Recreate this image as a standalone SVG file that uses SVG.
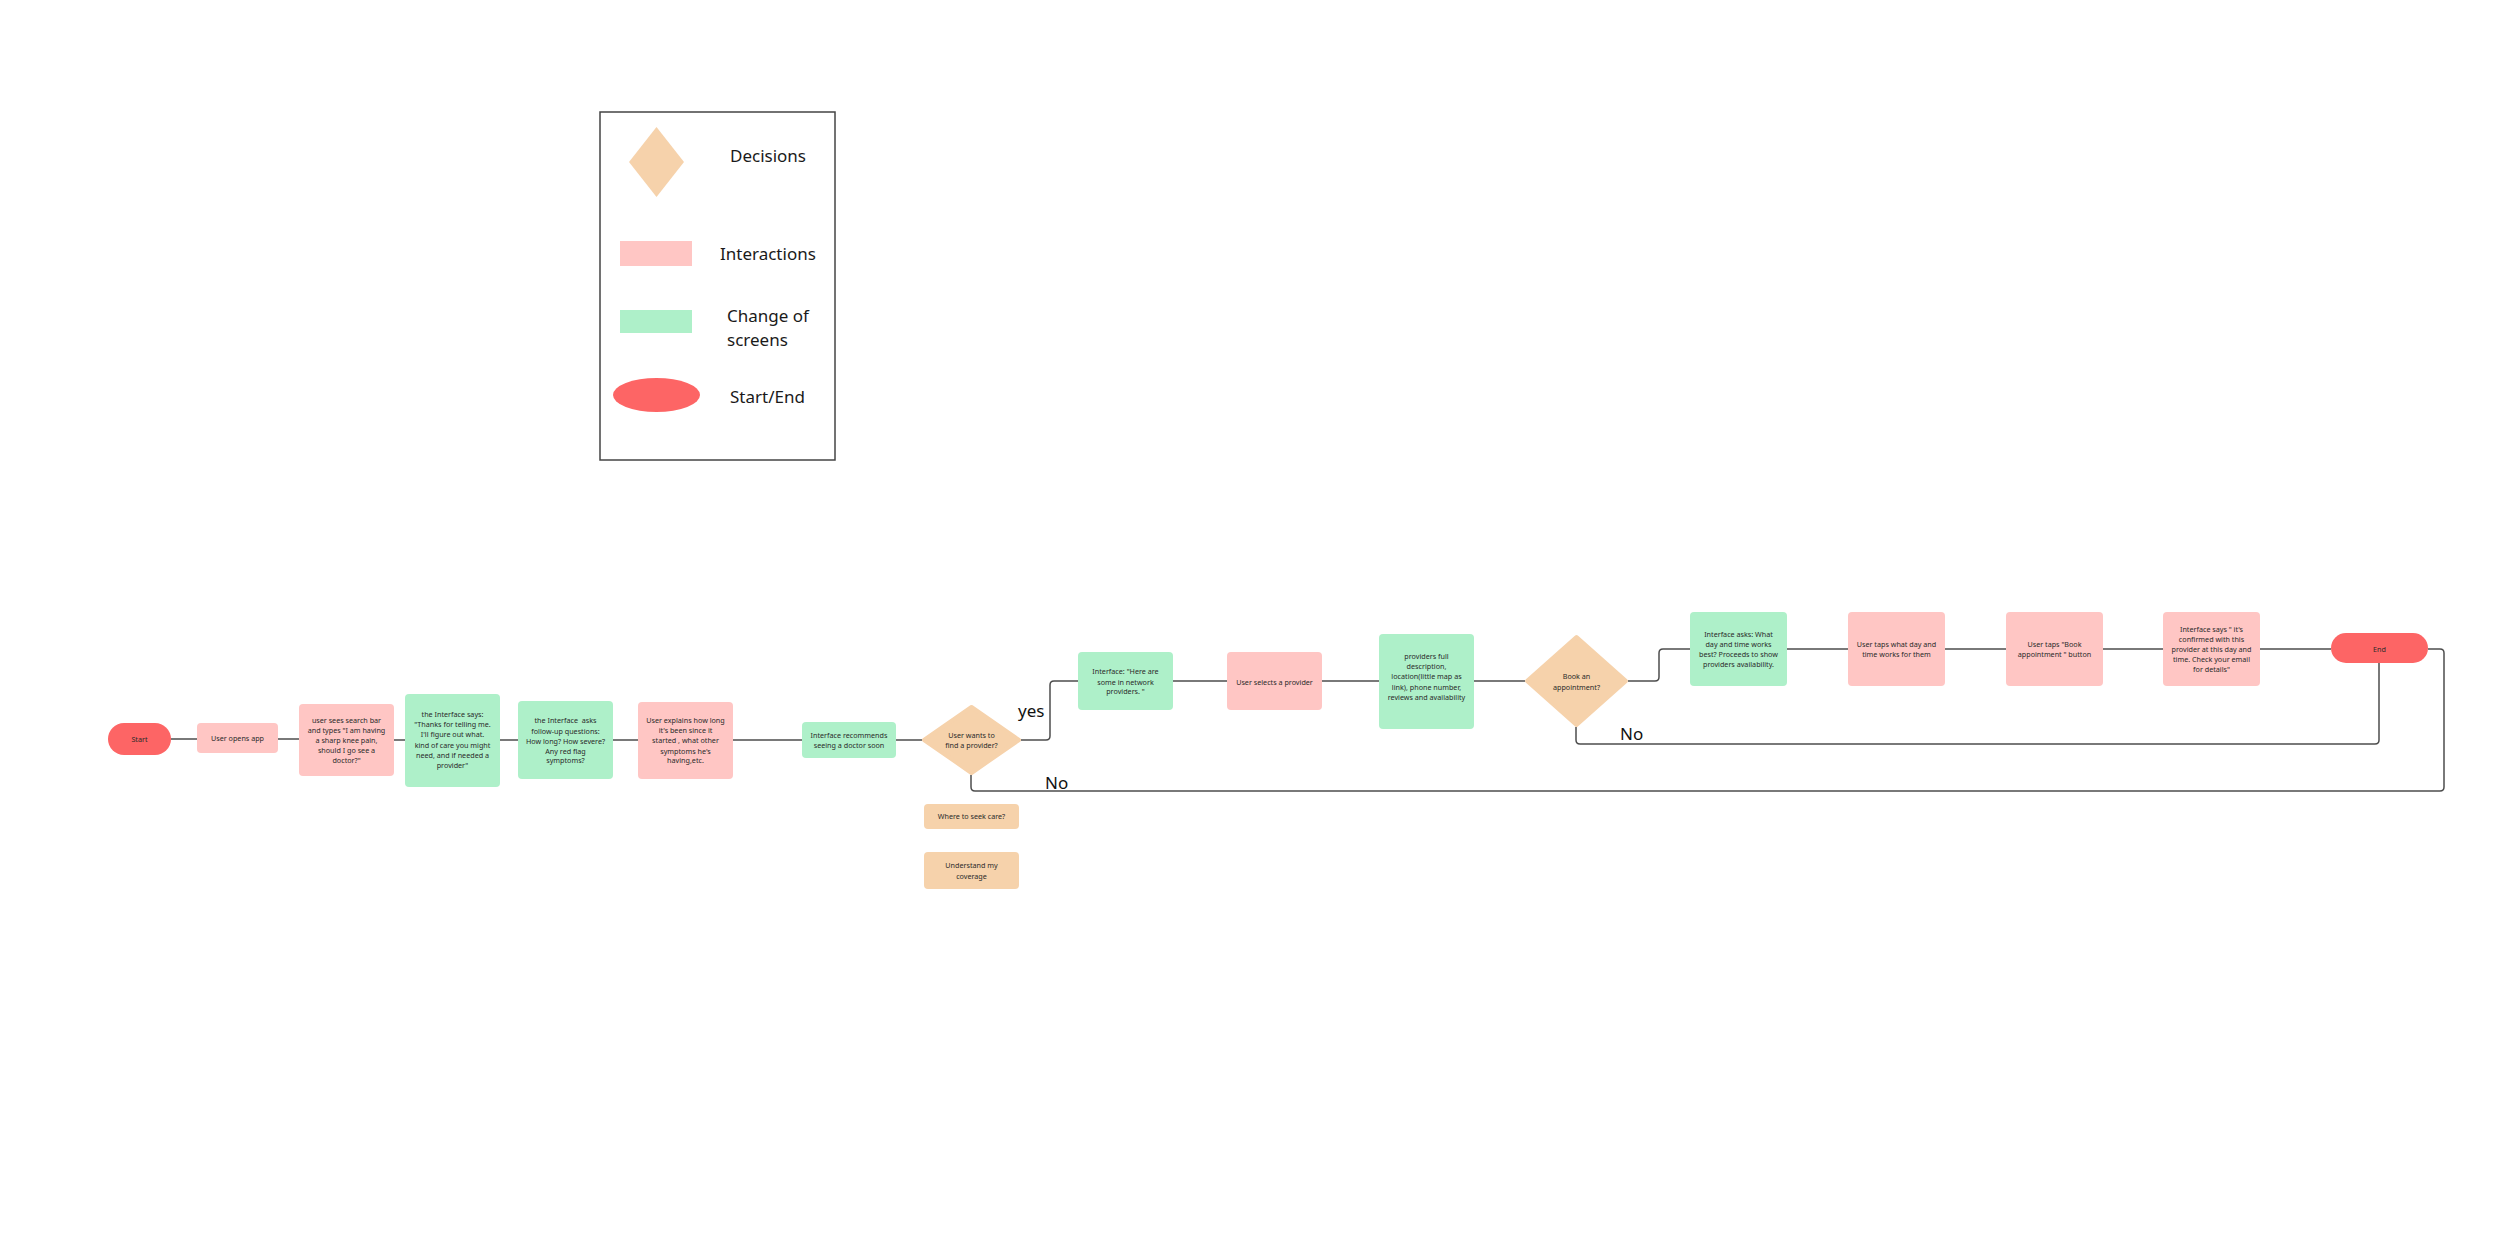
<svg xmlns="http://www.w3.org/2000/svg" width="2500" height="1247" viewBox="0 0 2500 1247">
<style>
.bg{fill:#ffffff}
.int{fill:#ffc6c4}
.scr{fill:#aef0c9}
.dec{fill:#f6d2ab;stroke:#f6d2ab;stroke-width:4;stroke-linejoin:round}
.opt{fill:#f6d2ab}
.se{fill:#fd6565}
.t{font-family:"Noto Sans","Open Sans",sans-serif;font-size:7.2px;fill:#2a2a2a;text-anchor:middle}
.lg{font-family:"Noto Sans","Open Sans",sans-serif;font-size:17px;fill:#1a1a1a}
.lab{font-family:"Noto Sans","Open Sans",sans-serif;font-size:17px;fill:#111111}
.c{fill:none;stroke:#4d4d4d;stroke-width:1.5}
</style>
<rect class="bg" x="0" y="0" width="2500" height="1247"/>

<g id="legend">
<rect x="600" y="112" width="235" height="348" fill="none" stroke="#444" stroke-width="1.5"/>
<polygon points="656.5,127 684,162 656.5,197 629,162" fill="#f6d2ab"/>
<text class="lg" x="730" y="162">Decisions</text>
<rect x="620" y="241" width="72" height="25" fill="#ffc6c4"/>
<text class="lg" x="720" y="260">Interactions</text>
<rect x="620" y="310" width="72" height="23" fill="#aef0c9"/>
<text class="lg" x="727" y="322">Change of</text>
<text class="lg" x="727" y="346">screens</text>
<ellipse cx="656.5" cy="395" rx="43.5" ry="17" fill="#fd6565"/>
<text class="lg" x="730" y="403">Start/End</text>
</g>

<g id="connectors">
<path class="c" d="M171 739 H197"/>
<path class="c" d="M278 739 H299"/>
<path class="c" d="M394 740 H405"/>
<path class="c" d="M500 740 H518"/>
<path class="c" d="M613 740 H638"/>
<path class="c" d="M733 740 H802"/>
<path class="c" d="M896 740 H922"/>
<path class="c" d="M1021 740 H1046 Q1050 740 1050 736 V685 Q1050 681 1054 681 H1078"/>
<path class="c" d="M1173 681 H1227"/>
<path class="c" d="M1322 681 H1379"/>
<path class="c" d="M1474 681 H1525"/>
<path class="c" d="M1628 681 H1655 Q1659 681 1659 677 V653 Q1659 649 1663 649 H1690"/>
<path class="c" d="M1787 649 H1848"/>
<path class="c" d="M1945 649 H2006"/>
<path class="c" d="M2103 649 H2163"/>
<path class="c" d="M2260 649 H2331"/>
<path class="c" d="M1576 727 V740 Q1576 744 1580 744 H2375 Q2379 744 2379 740 V663"/>
<path class="c" d="M971 775 V787 Q971 791 975 791 H2440 Q2444 791 2444 787 V653 Q2444 649 2440 649 H2428"/>
<text class="lab" x="1018" y="717">yes</text>
<text class="lab" x="1045" y="789">No</text>
<text class="lab" x="1620" y="740">No</text>
</g>

<g id="start">
<rect class="se" x="108" y="723" width="63" height="32" rx="16"/>
<text class="t" x="139.5" y="741.5">Start</text>
</g>

<g id="n-opens-app">
<rect class="int" x="197" y="723" width="81" height="30" rx="4"/>
<text class="t" x="237.5" y="741">User opens app</text>
</g>

<g id="n-search">
<rect class="int" x="299" y="704" width="95" height="72" rx="4"/>
<text class="t" x="346.5" y="722.5">user sees search bar</text>
<text class="t" x="346.5" y="732.5">and types "I am having</text>
<text class="t" x="346.5" y="742.5">a sharp knee pain,</text>
<text class="t" x="346.5" y="753">should I go see a</text>
<text class="t" x="346.5" y="763">doctor?"</text>
</g>

<g id="n-interface-says">
<rect class="scr" x="405" y="694" width="95" height="93" rx="4"/>
<text class="t" x="452.5" y="716.5">the Interface says:</text>
<text class="t" x="452.5" y="727">"Thanks for telling me.</text>
<text class="t" x="452.5" y="737">I'll figure out what.</text>
<text class="t" x="452.5" y="747.5">kind of care you might</text>
<text class="t" x="452.5" y="758">need, and if needed a</text>
<text class="t" x="452.5" y="768">provider"</text>
</g>

<g id="n-followup">
<rect class="scr" x="518" y="701" width="95" height="78" rx="4"/>
<text class="t" x="565.5" y="722.5" xml:space="preserve">the Interface  asks</text>
<text class="t" x="565.5" y="733.5">follow-up questions:</text>
<text class="t" x="565.5" y="743.5">How long? How severe?</text>
<text class="t" x="565.5" y="753.5">Any red flag</text>
<text class="t" x="565.5" y="762.5">symptoms?</text>
</g>

<g id="n-explains">
<rect class="int" x="638" y="702" width="95" height="77" rx="4"/>
<text class="t" x="685.5" y="722.5">User explains how long</text>
<text class="t" x="685.5" y="733">it's been since it</text>
<text class="t" x="685.5" y="743">started , what other</text>
<text class="t" x="685.5" y="753.5">symptoms he's</text>
<text class="t" x="685.5" y="763">having,etc.</text>
</g>

<g id="n-recommends">
<rect class="scr" x="802" y="722" width="94" height="36" rx="4"/>
<text class="t" x="849" y="737.5">Interface recommends</text>
<text class="t" x="849" y="748">seeing a doctor soon</text>
</g>

<g id="d-find-provider">
<polygon class="dec" points="971.5,707 1019,740 971.5,773 924,740"/>
<text class="t" x="971.5" y="737.5">User wants to</text>
<text class="t" x="971.5" y="748">find a provider?</text>
</g>

<g id="o-seek-care">
<rect class="opt" x="924" y="804" width="95" height="25" rx="4"/>
<text class="t" x="971.5" y="819">Where to seek care?</text>
</g>

<g id="o-coverage">
<rect class="opt" x="924" y="852" width="95" height="37" rx="4"/>
<text class="t" x="971.5" y="868">Understand my</text>
<text class="t" x="971.5" y="879">coverage</text>
</g>

<g id="n-in-network">
<rect class="scr" x="1078" y="652" width="95" height="58" rx="4"/>
<text class="t" x="1125.5" y="674">Interface: "Here are</text>
<text class="t" x="1125.5" y="684.5">some in network</text>
<text class="t" x="1125.5" y="694">providers. "</text>
</g>

<g id="n-selects">
<rect class="int" x="1227" y="652" width="95" height="58" rx="4"/>
<text class="t" x="1274.5" y="684.5">User selects a provider</text>
</g>

<g id="n-provider-desc">
<rect class="scr" x="1379" y="634" width="95" height="95" rx="4"/>
<text class="t" x="1426.5" y="659">providers full</text>
<text class="t" x="1426.5" y="669">description,</text>
<text class="t" x="1426.5" y="679">location(little map as</text>
<text class="t" x="1426.5" y="689.5">link), phone number,</text>
<text class="t" x="1426.5" y="699.5">reviews and availability</text>
</g>

<g id="d-book">
<polygon class="dec" points="1576.5,637 1626,681 1576.5,725 1527,681"/>
<text class="t" x="1576.5" y="679">Book an</text>
<text class="t" x="1576.5" y="689.5">appointment?</text>
</g>

<g id="n-asks-day">
<rect class="scr" x="1690" y="612" width="97" height="74" rx="4"/>
<text class="t" x="1738.5" y="636.5">Interface asks: What</text>
<text class="t" x="1738.5" y="646.5">day and time works</text>
<text class="t" x="1738.5" y="656.5">best? Proceeds to show</text>
<text class="t" x="1738.5" y="666.5">providers availability.</text>
</g>

<g id="n-taps-day">
<rect class="int" x="1848" y="612" width="97" height="74" rx="4"/>
<text class="t" x="1896.5" y="646.5">User taps what day and</text>
<text class="t" x="1896.5" y="656.5">time works for them</text>
</g>

<g id="n-taps-book">
<rect class="int" x="2006" y="612" width="97" height="74" rx="4"/>
<text class="t" x="2054.5" y="646.5">User taps "Book</text>
<text class="t" x="2054.5" y="656.5">appointment " button</text>
</g>

<g id="n-confirmed">
<rect class="int" x="2163" y="612" width="97" height="74" rx="4"/>
<text class="t" x="2211.5" y="631.5">Interface says " it's</text>
<text class="t" x="2211.5" y="641.5">confirmed with this</text>
<text class="t" x="2211.5" y="651.5">provider at this day and</text>
<text class="t" x="2211.5" y="662">time. Check your email</text>
<text class="t" x="2211.5" y="672">for details"</text>
</g>

<g id="end">
<rect class="se" x="2331" y="633" width="97" height="30" rx="15"/>
<text class="t" x="2379.5" y="651.5">End</text>
</g>
</svg>
